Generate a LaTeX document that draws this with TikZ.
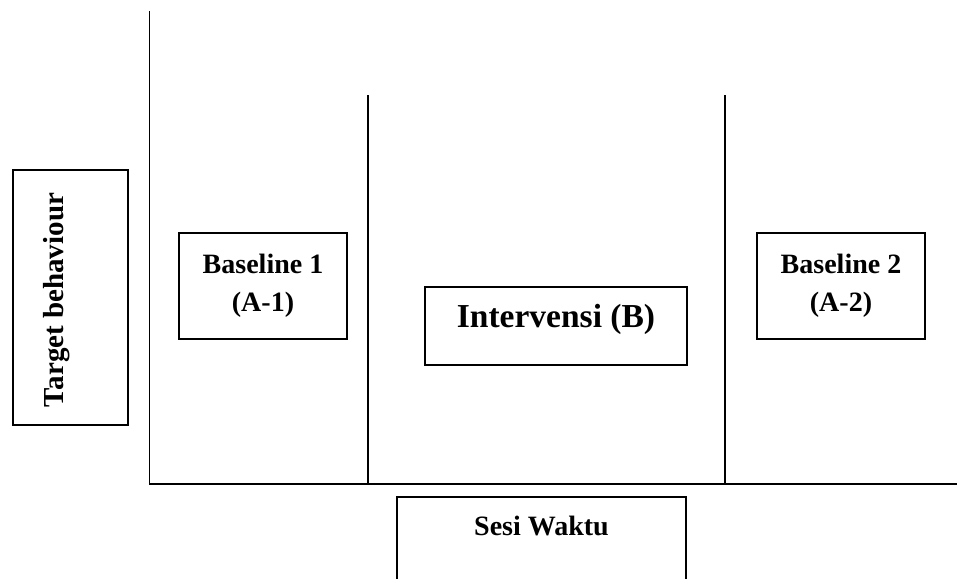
\documentclass[tikz,border=0pt]{standalone}
\usepackage{fontspec}
\setmainfont{Liberation Serif}
\begin{document}
\begin{tikzpicture}[x=1pt,y=-1pt,
  axis/.style={line width=1.8pt,black},
  phase/.style={line width=1.3pt,black},
  box/.style={draw,line width=1.3pt,inner sep=0pt},
  lbl/.style={font=\bfseries\fontsize{28}{38}\selectfont,align=center,inner sep=0pt}]
\clip (0,0) rectangle (957,578);

% axes
\coordinate (origin) at (149.5,484);
\coordinate (ytop) at (149.5,11);
\coordinate (xend) at (957,484);
\draw[axis] (ytop) -- (origin) -- (xend);

% phase dividers
\coordinate (d1top) at (368,95);
\coordinate (d1bot) at (368,484);
\coordinate (d2top) at (725,95);
\coordinate (d2bot) at (725,484);
\draw[phase] (d1top) -- (d1bot);
\draw[phase] (d2top) -- (d2bot);

% y-axis label
\node[box,minimum width=115pt,minimum height=255pt] (tbbox) at (70.5,297.5) {};
\node[lbl,rotate=90,font=\bfseries\fontsize{29}{35}\selectfont,anchor=base] (tb) at (63,300) {Target behaviour};

% baseline 1
\node[box,minimum width=168pt,minimum height=106pt] (b1box) at (263,286) {};
\node[lbl,anchor=base] (b1) at (263,273) {Baseline 1};
\node[lbl,anchor=base] (a1) at (263,311) {(A-1)};

% intervention
\node[box,minimum width=262pt,minimum height=78pt] (ibox) at (556,326) {};
\node[lbl,anchor=base,font=\bfseries\fontsize{33.5}{40}\selectfont] (iv) at (556,327) {Intervensi (B)};

% baseline 2
\node[box,minimum width=168pt,minimum height=106pt] (b2box) at (841,286) {};
\node[lbl,anchor=base] (b2) at (841,273) {Baseline 2};
\node[lbl,anchor=base] (a2) at (841,311) {(A-2)};

% x-axis label
\node[box,minimum width=289pt,minimum height=120pt] (swbox) at (541.5,557) {};
\node[lbl,anchor=base] (sw) at (541.5,535) {Sesi Waktu};
\end{tikzpicture}
\end{document}
